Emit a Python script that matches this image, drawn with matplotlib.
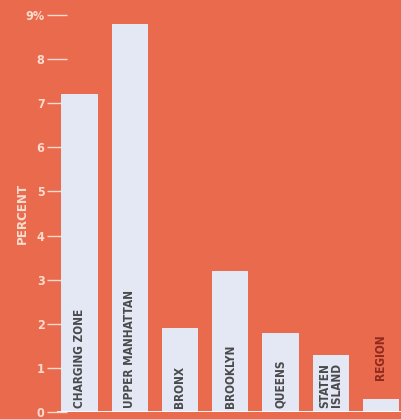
import matplotlib
matplotlib.use("Agg")
import matplotlib.pyplot as plt

categories = ["CHARGING ZONE", "UPPER MANHATTAN", "BRONX", "BROOKLYN",
              "QUEENS", "STATEN\nISLAND", "REGION"]
values = [7.2, 8.8, 1.9, 3.2, 1.8, 1.3, 0.3]
yticks = [0, 1, 2, 3, 4, 5, 6, 7, 8, 9]
ytick_labels = ["0", "1", "2", "3", "4", "5", "6", "7", "8", "9%"]

bg = "#EA6A4E"
bar_color = "#E4E8F4"
tick_color = "#F9DCCF"
text_color = "#4A4A4C"
outside_color = "#8E2A1C"
font = "DejaVu Sans"

fig = plt.figure(figsize=(4.01, 4.19), dpi=100, facecolor=bg)
ax = fig.add_axes([57 / 401, 7 / 419, 344 / 401, 412 / 419])
ax.set_facecolor(bg)

x = list(range(len(categories)))
ax.bar(x, values, width=0.72, color=bar_color, zorder=2)
ax.axhline(0, color="white", lw=2, zorder=3)

for xi, v, name in zip(x, values, categories):
    if v > 1.0:
        ax.text(xi, 0.1, name, rotation=90, ha="center", va="bottom",
                color=text_color, fontsize=8.5, fontweight="bold",
                family=font, fontstretch="condensed", linespacing=0.9,
                zorder=4)
    else:
        ax.text(xi, v + 0.42, name, rotation=90, ha="center", va="bottom",
                color=outside_color, fontsize=8.5, fontweight="bold",
                family=font, fontstretch="condensed", zorder=4)

ax.set_xlim(-0.448, 6.40)
ax.set_ylim(0, 9.34)
ax.set_xticks([])
ax.set_yticks(yticks)
ax.set_yticklabels(ytick_labels, family=font, fontweight="bold", fontsize=9,
                   fontstretch="condensed", color=tick_color)
ax.tick_params(axis="y", direction="inout", length=14, width=1,
               color=tick_color, pad=2)
ax.set_axisbelow(True)
for s in ax.spines.values():
    s.set_visible(False)

fig.text(22 / 401, 1 - 213 / 419, "PERCENT", rotation=90, ha="center",
         va="center", color=tick_color, fontsize=9.5, fontweight="bold",
         family=font, fontstretch="condensed")

fig.savefig("out.png", dpi=100, facecolor=bg)
